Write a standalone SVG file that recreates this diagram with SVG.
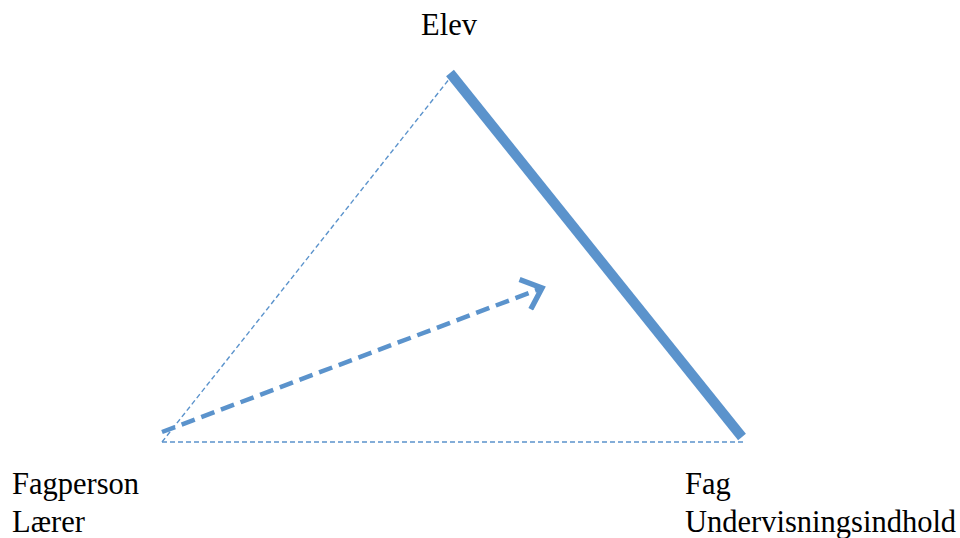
<svg xmlns="http://www.w3.org/2000/svg" width="960" height="538" viewBox="0 0 960 538">
<style>
.lbl{font-family:'Liberation Serif','DejaVu Serif',serif;font-size:30.5px;fill:#000}
.thin{stroke:#5b93cc;stroke-width:1.4;stroke-dasharray:5 3;fill:none}
</style>
<defs>
<marker id="arr" viewBox="0 0 10 10" refX="8.6" refY="5" markerWidth="8" markerHeight="8" orient="auto" markerUnits="strokeWidth">
<path d="M3.6,0.6 L8.6,5 L3.6,9.4" fill="none" stroke="#5b93cc" stroke-width="1.5" stroke-linejoin="miter"/>
</marker>
</defs>
<rect width="960" height="538" fill="#fff"/>
<g id="connectors">
<path class="thin" d="M162,442 L450,78"/>
<path class="thin" d="M162,442 L746,442"/>
<path d="M450,73 L742,437" stroke="#5b93cc" stroke-width="10" fill="none"/>
<path d="M162,432 L542,288" stroke="#5b93cc" stroke-width="4.5" stroke-dasharray="14 7" fill="none" marker-end="url(#arr)"/>
</g>
<g id="node-elev"><text class="lbl" x="449" y="35" text-anchor="middle">Elev</text></g>
<g id="node-fagperson"><text class="lbl" x="12" y="494">Fagperson</text><text class="lbl" x="12" y="532">Lærer</text></g>
<g id="node-fag"><text class="lbl" x="685" y="494">Fag</text><text class="lbl" x="685" y="532">Undervisningsindhold</text></g>
</svg>
